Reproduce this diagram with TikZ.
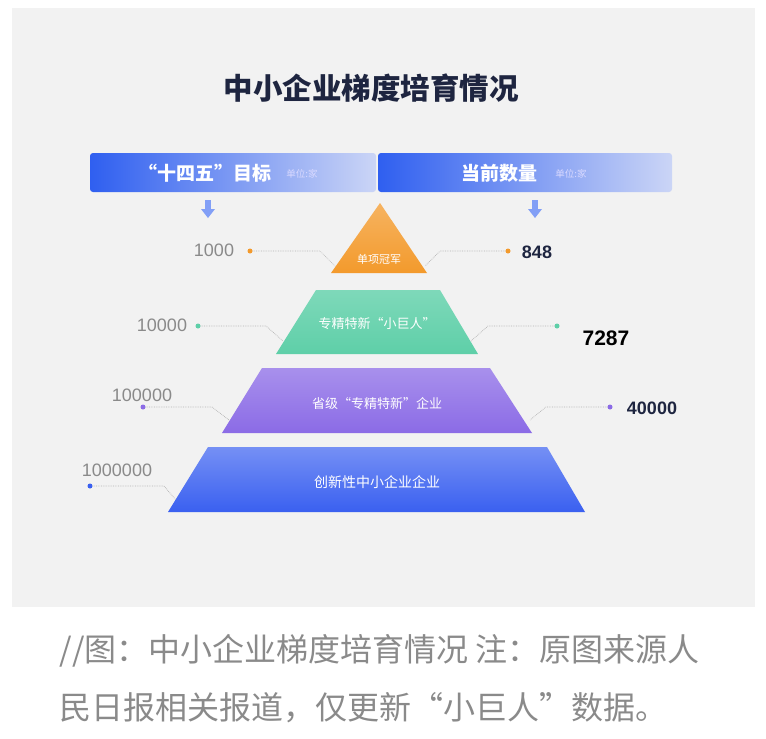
\documentclass[tikz,border=0pt]{standalone}
\usepackage{fontspec}
\newfontfamily\cjk{Noto Sans CJK SC}
\setmainfont{Liberation Sans}
\usetikzlibrary{shadings}
\definecolor{navy}{HTML}{1E2540}
\definecolor{gtext}{HTML}{8A8A8A}
\definecolor{hdblue}{HTML}{2F5FF0}
\definecolor{hdlight}{HTML}{CBD5F6}
\definecolor{corange}{HTML}{F39A2C}
\definecolor{cgreen}{HTML}{5ECFA8}
\definecolor{cpurple}{HTML}{8B6BE6}
\definecolor{cblue}{HTML}{3A60F0}
\tikzset{
  lead/.style={draw=gray!60, densely dotted, line width=0.7pt},
  dotm/.style={circle, inner sep=0pt, minimum size=5pt},
  lnum/.style={text=gtext, font=\fontsize{18}{18}\selectfont},
  rnum/.style={text=navy, font=\bfseries\fontsize{18}{18}\selectfont},
  lvl/.style={text=white, font=\cjk\fontsize{13}{13}\selectfont},
}
\begin{document}
\begin{tikzpicture}[x=1pt,y=-1pt]
\useasboundingbox (0,0) rectangle (766,739);
\fill[white] (0,0) rectangle (766,739);
\fill[gray!10] (12,8) rectangle (755,607);
\node (title) at (371,88) {\cjk\bfseries\fontsize{29.5}{29.5}\selectfont\color{navy}中小企业梯度培育情况};
% header bars
\shade[left color=hdblue, right color=hdlight, rounded corners=3pt] (90,153) rectangle (376,192);
\shade[left color=hdblue, right color=hdlight, rounded corners=3pt] (378,153) rectangle (672,192);
\node (h1) at (205,173) {\cjk\bfseries\fontsize{19}{19}\selectfont\color{white}“十四五”目标};
\node (h1u) at (302,174) {\cjk\fontsize{9.5}{9.5}\selectfont\color{white!85!blue}单位:家};
\node (h2) at (499,173) {\cjk\bfseries\fontsize{19}{19}\selectfont\color{white}当前数量};
\node (h2u) at (571,174) {\cjk\fontsize{9.5}{9.5}\selectfont\color{white!85!blue}单位:家};
% down arrows
\foreach \x in {208,535}{
  \fill[hdblue!60] (\x-3,200) rectangle (\x+3,209);
  \fill[hdblue!60] (\x-7,209) -- (\x+7,209) -- (\x,218) -- cycle;
}
% pyramid
\shade[top color=corange!75, bottom color=corange] (380,203) -- (427,273) -- (331,273) -- cycle;
\node[lvl, font=\cjk\fontsize{11}{11}\selectfont] (l1) at (379,259) {单项冠军};
\shade[top color=cgreen!80, bottom color=cgreen] (316,290) -- (440,290) -- (478,354) -- (276,354) -- cycle;
\node[lvl] (l2) at (377,324) {专精特新“小巨人”};
\shade[top color=cpurple!75, bottom color=cpurple] (262,368) -- (490,368) -- (532,433) -- (222,433) -- cycle;
\node[lvl] (l3) at (377,404) {省级“专精特新”企业};
\shade[top color=cblue!70, bottom color=cblue] (208,447) -- (547,447) -- (585,512) -- (168,512) -- cycle;
\node[lvl, font=\cjk\fontsize{14}{14}\selectfont] (l4) at (377,482) {创新性中小企业企业};
% left labels
\node[lnum] (a1) at (214,250) {1000};
\node[dotm, fill=corange] (d1) at (250,251) {};
\coordinate (e1) at (335,266);
\draw[lead] (d1) -- (320,251) -- (e1);
\node[lnum] (a2) at (162,325) {10000};
\node[dotm, fill=cgreen] (d2) at (198,326) {};
\coordinate (e2) at (283,341);
\draw[lead] (d2) -- (266,326) -- (e2);
\node[lnum] (a3) at (142,395) {100000};
\node[dotm, fill=cpurple] (d3) at (143,407) {};
\coordinate (e3) at (229,420);
\draw[lead] (d3) -- (212,407) -- (e3);
\node[lnum] (a4) at (117,470) {1000000};
\node[dotm, fill=cblue] (d4) at (90,486) {};
\coordinate (e4) at (176,500);
\draw[lead] (d4) -- (164,486) -- (e4);
% right labels
\node[dotm, fill=corange] (r1) at (508,251) {};
\coordinate (f1) at (425,266);
\draw[lead] (r1) -- (440,251) -- (f1);
\node[rnum] (b1) at (537,252) {848};
\node[dotm, fill=cgreen] (r2) at (557,326) {};
\coordinate (f2) at (471,341);
\draw[lead] (r2) -- (488,326) -- (f2);
\node[rnum, text=black, font=\bfseries\fontsize{21}{21}\selectfont] (b2) at (606,338) {7287};
\node[dotm, fill=cpurple] (r3) at (610,407) {};
\coordinate (f3) at (530,420);
\draw[lead] (r3) -- (546,407) -- (f3);
\node[rnum] (b3) at (652,408) {40000};
% caption
\node[anchor=west, text=gtext] (c1) at (56,651) {\cjk\fontsize{32}{32}\selectfont //图：中小企业梯度培育情况 注：原图来源人};
\node[anchor=west, text=gtext] (c2) at (56,708) {\cjk\fontsize{32}{32}\selectfont 民日报相关报道，仅更新“小巨人”数据。};
\end{tikzpicture}
\end{document}
